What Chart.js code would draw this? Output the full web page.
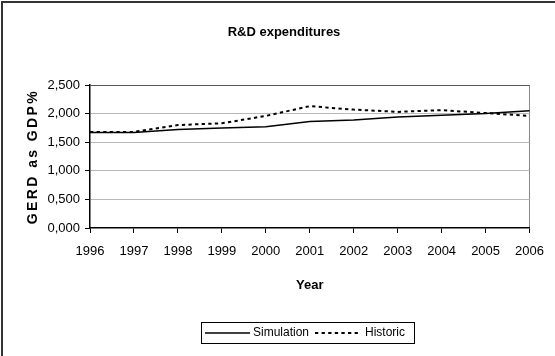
<!DOCTYPE html>
<html>
<head>
<meta charset="utf-8">
<script src="https://cdn.jsdelivr.net/npm/chart.js@4.4.1/dist/chart.umd.min.js"></script>
<style>
  html, body { margin: 0; padding: 0; background: #fff; }
  #wrap { width: 555px; height: 356px; position: relative; }
</style>
</head>
<body>
<div id="wrap"><canvas id="rdChart" width="555" height="356"></canvas></div>
<script>
const years = ['1996', '1997', '1998', '1999', '2000', '2001', '2002', '2003', '2004', '2005', '2006'];
const simulation = [1.67, 1.67, 1.72, 1.75, 1.77, 1.86, 1.89, 1.94, 1.97, 2.00, 2.05];
const historic = [1.68, 1.68, 1.80, 1.83, 1.96, 2.13, 2.07, 2.03, 2.06, 2.01, 1.96];
const yTicks = [0, 0.5, 1, 1.5, 2, 2.5];

const FONT = "'Liberation Sans', Arial, sans-serif";

// frame, title, rotated y title and boxed legend
const decorations = {
  id: 'decorations',
  beforeDraw(chart) {
    const ctx = chart.ctx;
    ctx.save();
    ctx.fillStyle = '#fff';
    ctx.fillRect(0, 0, chart.width, chart.height);
    ctx.strokeStyle = '#333';
    ctx.lineWidth = 2;
    ctx.beginPath();
    ctx.moveTo(2, chart.height);
    ctx.lineTo(2, 2);
    ctx.lineTo(chart.width, 2);
    ctx.stroke();
    ctx.restore();
  },
  afterDraw(chart) {
    const ctx = chart.ctx;
    const area = chart.chartArea;
    ctx.save();
    ctx.fillStyle = '#000';
    ctx.textBaseline = 'middle';

    ctx.font = 'bold 13px ' + FONT;
    ctx.textAlign = 'center';
    ctx.fillText('R&D expenditures', 284, 32);

    // y axis title, spread out
    const yTitle = 'GERD as GDP%';
    ctx.font = 'bold 14px ' + FONT;
    const w = ctx.measureText(yTitle).width;
    ctx.letterSpacing = ((133 - w) / (yTitle.length - 1)).toFixed(1) + 'px';
    ctx.translate(33, (area.top + area.bottom) / 2);
    ctx.rotate(-Math.PI / 2);
    ctx.fillText(yTitle, 0, 0);
    ctx.restore();

    // legend
    ctx.save();
    ctx.strokeStyle = '#000';
    ctx.lineWidth = 1;
    ctx.strokeRect(201.5, 322.5, 213, 21);
    const ly = 333;
    ctx.font = '12px ' + FONT;
    ctx.textBaseline = 'middle';
    ctx.textAlign = 'left';
    ctx.fillStyle = '#000';
    const items = [
      { ds: chart.data.datasets[0], x0: 205, x1: 250, tx: 253 },
      { ds: chart.data.datasets[1], x0: 315, x1: 361, tx: 365 }
    ];
    items.forEach(it => {
      ctx.save();
      ctx.lineWidth = it.ds.borderWidth;
      ctx.setLineDash(it.ds.borderDash || []);
      ctx.beginPath();
      ctx.moveTo(it.x0, ly);
      ctx.lineTo(it.x1, ly);
      ctx.stroke();
      ctx.restore();
      ctx.fillText(it.ds.label, it.tx, ly);
    });
    ctx.restore();
  }
};

const fmt = v => v.toFixed(3).replace('.', ',');

new Chart(document.getElementById('rdChart'), {
  type: 'line',
  data: {
    labels: years,
    datasets: [
      {
        label: 'Simulation',
        data: simulation,
        borderColor: '#000',
        borderWidth: 1.5,
        pointRadius: 0,
        tension: 0
      },
      {
        label: 'Historic',
        data: historic,
        borderColor: '#000',
        borderWidth: 2,
        borderDash: [3.3, 3.3],
        pointRadius: 0,
        tension: 0
      }
    ]
  },
  options: {
    responsive: false,
    animation: false,
    layout: { padding: { top: 85, left: 0, right: 22, bottom: 0 } },
    plugins: {
      legend: { display: false },
      title: { display: false },
      tooltip: { enabled: false }
    },
    scales: {
      x: {
        offset: false,
        afterFit: s => { s.height = 128; },
        grid: {
          drawOnChartArea: true,
          color: c => c.index === years.length - 1 ? '#888' : 'rgba(0,0,0,0)',
          tickColor: '#000',
          tickLength: 5
        },
        border: { color: '#000', width: 1.5 },
        ticks: {
          color: '#000',
          padding: 11,
          maxRotation: 0,
          autoSkip: false,
          font: { family: FONT, size: 13 }
        },
        title: {
          display: true,
          text: 'Year',
          color: '#000',
          font: { family: FONT, size: 13, weight: 'bold' },
          padding: { top: 0, bottom: 63 }
        }
      },
      y: {
        min: 0,
        max: 2.5,
        afterFit: s => { s.width = 90; },
        afterBuildTicks: s => { s.ticks = yTicks.map(v => ({ value: v })); },
        grid: {
          color: c => c.tick && c.tick.value === 2.5 ? '#555' : (c.tick && c.tick.value === 0 ? 'rgba(0,0,0,0)' : '#b8b8b8'),
          tickColor: '#000',
          tickLength: 5
        },
        border: { color: '#000', width: 1.5 },
        ticks: {
          color: '#000',
          padding: 5,
          callback: v => fmt(v),
          font: { family: FONT, size: 13 }
        }
      }
    }
  },
  plugins: [decorations]
});
</script>
</body>
</html>
